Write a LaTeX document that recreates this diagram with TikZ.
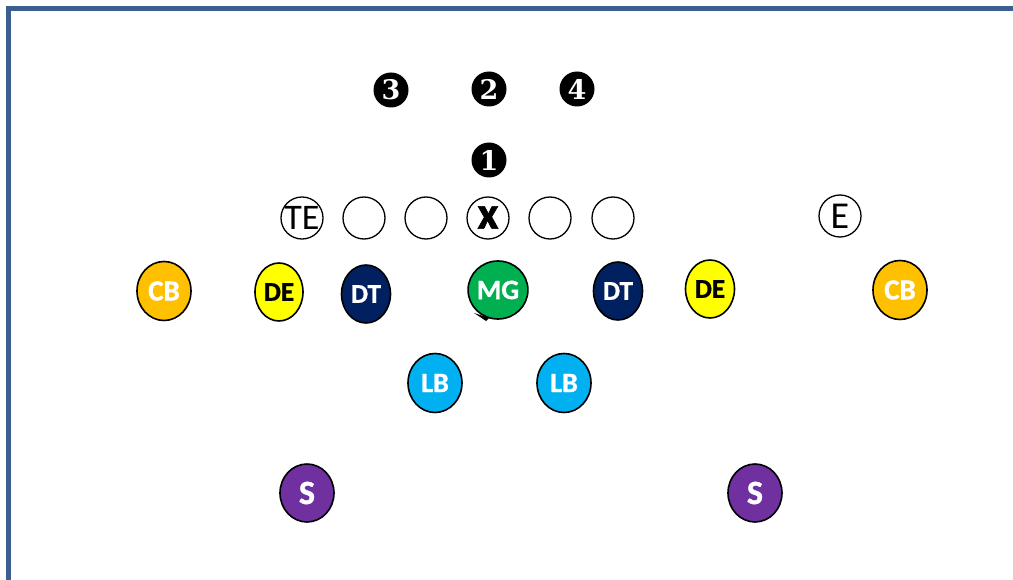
\documentclass[tikz,border=0pt]{standalone}
\usepackage{fontspec}
\setmainfont{Carlito}[BoldFeatures={FakeBold=1.2}]
\newfontfamily\numfont{DejaVu Serif}
\usetikzlibrary{shapes.geometric}
\definecolor{frameblue}{HTML}{3B6090}
\definecolor{cbcol}{HTML}{FFC000}
\definecolor{decol}{HTML}{FFFF00}
\definecolor{dtcol}{HTML}{002060}
\definecolor{mgcol}{HTML}{00B050}
\definecolor{lbcol}{HTML}{00B0F0}
\definecolor{scol}{HTML}{7030A0}
\tikzset{
  player/.style={ellipse, draw=black, line width=1.6pt, inner sep=0pt,
    font=\fontsize{28}{28}\selectfont\bfseries, text=white},
  oline/.style={circle, draw=black, line width=1.3pt, inner sep=0pt,
    minimum size=42pt, font=\fontsize{36}{36}\selectfont},
  hole/.style={circle, fill=black, inner sep=0pt, minimum size=35pt,
    text=white, font=\numfont\bfseries\fontsize{27}{27}\selectfont},
}
\begin{document}
\begin{tikzpicture}[x=1pt, y=-1pt]
\useasboundingbox (0,0) rectangle (1013,580);
% frame
\draw[frameblue, line width=5pt, line join=miter] (8.5,600) -- (8.5,8.5) -- (1030,8.5);
% numbered holes
\node[hole] (h3) at (391,90) {3};
\node[hole] (h2) at (489,89) {2};
\node[hole] (h4) at (577,89) {4};
\node[hole] (h1) at (489,160) {1};
% offensive line
\node[oline] (te) at (302,218) {TE};
\node[oline] (o2) at (364,218) {};
\node[oline] (o3) at (426,218) {};
\node[oline, font=\fontsize{46}{46}\selectfont\bfseries] (c) at (488,218) {\raisebox{1pt}{x}};
\node[oline] (o5) at (550,218) {};
\node[oline] (o6) at (613,218) {};
\node[oline, font=\fontsize{38}{38}\selectfont] (e) at (840,216) {E};
% defense
\node[player, fill=cbcol, minimum width=54pt, minimum height=59pt, font=\fontsize{29}{29}\selectfont\bfseries] (cbl) at (164,291) {CB};
\node[player, fill=decol, text=black, minimum width=48pt, minimum height=58pt, font=\fontsize{27}{27}\selectfont\bfseries] (del) at (279,292) {DE};
\node[player, fill=dtcol, minimum width=49pt, minimum height=58pt, font=\fontsize{27}{27}\selectfont\bfseries] (dtl) at (366,294) {DT};
\node[player, fill=mgcol, minimum width=50pt, minimum height=58pt] (mg) at (498,290) {MG};
\node[player, fill=dtcol, minimum width=49pt, minimum height=58pt, font=\fontsize{27}{27}\selectfont\bfseries] (dtr) at (618,291) {DT};
\node[player, fill=decol, text=black, minimum width=49pt, minimum height=58pt, font=\fontsize{27}{27}\selectfont\bfseries] (der) at (710,289) {DE};
\node[player, fill=cbcol, minimum width=54pt, minimum height=59pt, font=\fontsize{29}{29}\selectfont\bfseries] (cbr) at (900,290) {CB};
\node[player, fill=lbcol, minimum width=54pt, minimum height=59pt] (lbl) at (435,383) {LB};
\node[player, fill=lbcol, minimum width=54pt, minimum height=59pt] (lbr) at (564,383) {LB};
\node[player, fill=scol, minimum width=54pt, minimum height=58pt, font=\fontsize{34}{34}\selectfont\bfseries] (sl) at (307,493) {S};
\node[player, fill=scol, minimum width=54pt, minimum height=58pt, font=\fontsize{34}{34}\selectfont\bfseries] (sr) at (755,493) {S};
% small mark on MG
\fill[black] (474,313) -- (489,318) -- (486,321) -- cycle;
\end{tikzpicture}
\end{document}
